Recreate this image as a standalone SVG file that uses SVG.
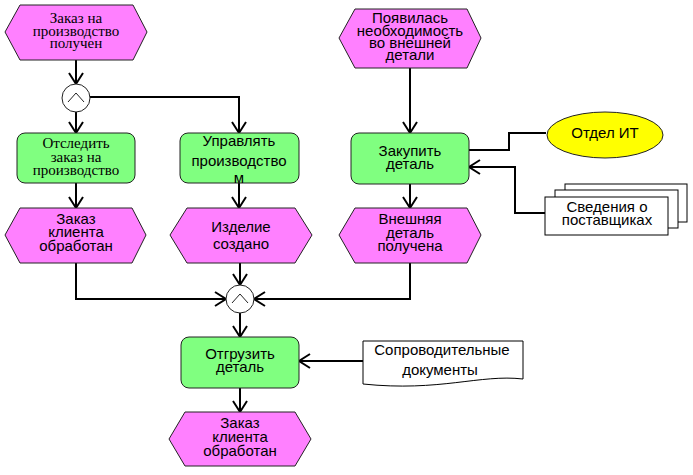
<svg xmlns="http://www.w3.org/2000/svg" width="693" height="475" viewBox="0 0 693 475">
<style>
.ev{fill:#FF80FF;stroke:#222;stroke-width:1}
.fn{fill:#80FF80;stroke:#222;stroke-width:1}
.c{fill:none;stroke:#000;stroke-width:2}
.a{fill:none;stroke:#000;stroke-width:2;marker-end:url(#ar)}
.t{font-family:"Liberation Sans",Arial,sans-serif;font-size:15px;fill:#000;text-anchor:middle}
.s{font-family:"Liberation Serif","Times New Roman",serif;font-size:15px;fill:#000;text-anchor:middle}
.and{fill:#fff;stroke:#222;stroke-width:1}
.doc{fill:#fff;stroke:#000;stroke-width:1}
</style>
<defs>
<marker id="ar" markerUnits="userSpaceOnUse" markerWidth="14" markerHeight="16" viewBox="0 0 14 16" refX="12" refY="8" orient="auto">
<path d="M1,1 L12,8 L1,15" fill="none" stroke="#000" stroke-width="2"/>
</marker>
</defs>
<rect width="693" height="475" fill="#fff"/>
<g id="connectors">
<line class="a" x1="76" y1="60" x2="76" y2="84"/>
<line class="a" x1="76" y1="112" x2="76" y2="133"/>
<polyline class="a" points="90,97 239,97 239,133"/>
<line class="a" x1="410" y1="68" x2="410" y2="133"/>
<line class="a" x1="76" y1="183" x2="76" y2="208"/>
<line class="a" x1="239" y1="183" x2="239" y2="208"/>
<line class="a" x1="410" y1="184" x2="410" y2="208"/>
<polyline class="c" points="469,150 509,150 509,133 546,133"/>
<polyline class="a" points="545,213 515,213 515,167 469,167"/>
<polyline class="a" points="76,263 76,299 226,299"/>
<polyline class="a" points="410,263 410,299 254,299"/>
<line class="a" x1="240" y1="263" x2="240" y2="285"/>
<line class="a" x1="240" y1="313" x2="240" y2="337"/>
<line class="a" x1="363" y1="361" x2="299" y2="361"/>
<line class="a" x1="240" y1="388" x2="240" y2="412"/>
</g>
<g id="ev1">
<polygon class="ev" points="5,32 20,5 133,5 147,32 133,60 20,60"/>
<text class="s" x="76" y="23">Заказ на</text>
<text class="s" x="76" y="36">производство</text>
<text class="s" x="76" y="48">получен</text>
</g>
<g id="and1">
<circle class="and" cx="76" cy="98" r="14"/>
<polyline points="68,102 76,93 84,102" fill="none" stroke="#222" stroke-width="1"/>
</g>
<g id="ev2">
<polygon class="ev" points="339,38 355,9 467,9 481,38 467,68 355,68"/>
<text class="t" x="410" y="23">Появилась</text>
<text class="t" x="410" y="36">необходимость</text>
<text class="t" x="410" y="48">во внешней</text>
<text class="t" x="410" y="60">детали</text>
</g>
<g id="fn1">
<rect class="fn" x="17" y="133" width="118" height="50" rx="8"/>
<text class="s" x="76" y="148">Отследить</text>
<text class="s" x="76" y="162">заказ на</text>
<text class="s" x="76" y="175">производство</text>
</g>
<g id="fn2">
<rect class="fn" x="180" y="133" width="119" height="50" rx="8"/>
<text class="t" x="239" y="146">Управлять</text>
<text class="t" x="239" y="166">производство</text>
<text class="t" x="239" y="183">м</text>
</g>
<g id="fn3">
<rect class="fn" x="351" y="133" width="118" height="51" rx="8"/>
<text class="t" x="410" y="156">Закупить</text>
<text class="t" x="410" y="169">деталь</text>
</g>
<g id="org">
<ellipse cx="605" cy="135" rx="58" ry="23" fill="#FFFF00" stroke="#222" stroke-width="1"/>
<text class="t" x="605" y="138">Отдел ИТ</text>
</g>
<g id="docs1">
<rect class="doc" x="565" y="184" width="122" height="38"/>
<rect class="doc" x="555" y="190" width="123" height="38"/>
<rect class="doc" x="545" y="197" width="123" height="38"/>
<text class="t" x="607" y="212">Сведения о</text>
<text class="t" x="607" y="225">поставщиках</text>
</g>
<g id="ev3">
<polygon class="ev" points="5,235 20,208 132,208 146,235 132,263 20,263"/>
<text class="t" x="76" y="224">Заказ</text>
<text class="t" x="76" y="237">клиента</text>
<text class="t" x="76" y="251">обработан</text>
</g>
<g id="ev4">
<polygon class="ev" points="170,235 187,208 295,208 312,235 295,263 187,263"/>
<text class="t" x="241" y="232">Изделие</text>
<text class="t" x="241" y="249">создано</text>
</g>
<g id="ev5">
<polygon class="ev" points="339,235 355,208 467,208 481,235 467,263 355,263"/>
<text class="t" x="410" y="224">Внешняя</text>
<text class="t" x="410" y="238">деталь</text>
<text class="t" x="410" y="251">получена</text>
</g>
<g id="and2">
<circle class="and" cx="240" cy="299" r="14"/>
<polyline points="232,303 240,294 248,303" fill="none" stroke="#222" stroke-width="1"/>
</g>
<g id="fn4">
<rect class="fn" x="181" y="337" width="118" height="51" rx="8"/>
<text class="t" x="240" y="359">Отгрузить</text>
<text class="t" x="240" y="372">деталь</text>
</g>
<g id="doc2">
<path class="doc" d="M363,341 H523 V379 C480,374 440,392 363,384 Z"/>
<text class="t" x="442" y="355">Сопроводительные</text>
<text class="t" x="440" y="375">документы</text>
</g>
<g id="ev6">
<polygon class="ev" points="169,439 185,412 295,412 311,439 295,466 185,466"/>
<text class="t" x="240" y="428">Заказ</text>
<text class="t" x="240" y="442">клиента</text>
<text class="t" x="240" y="456">обработан</text>
</g>
</svg>
